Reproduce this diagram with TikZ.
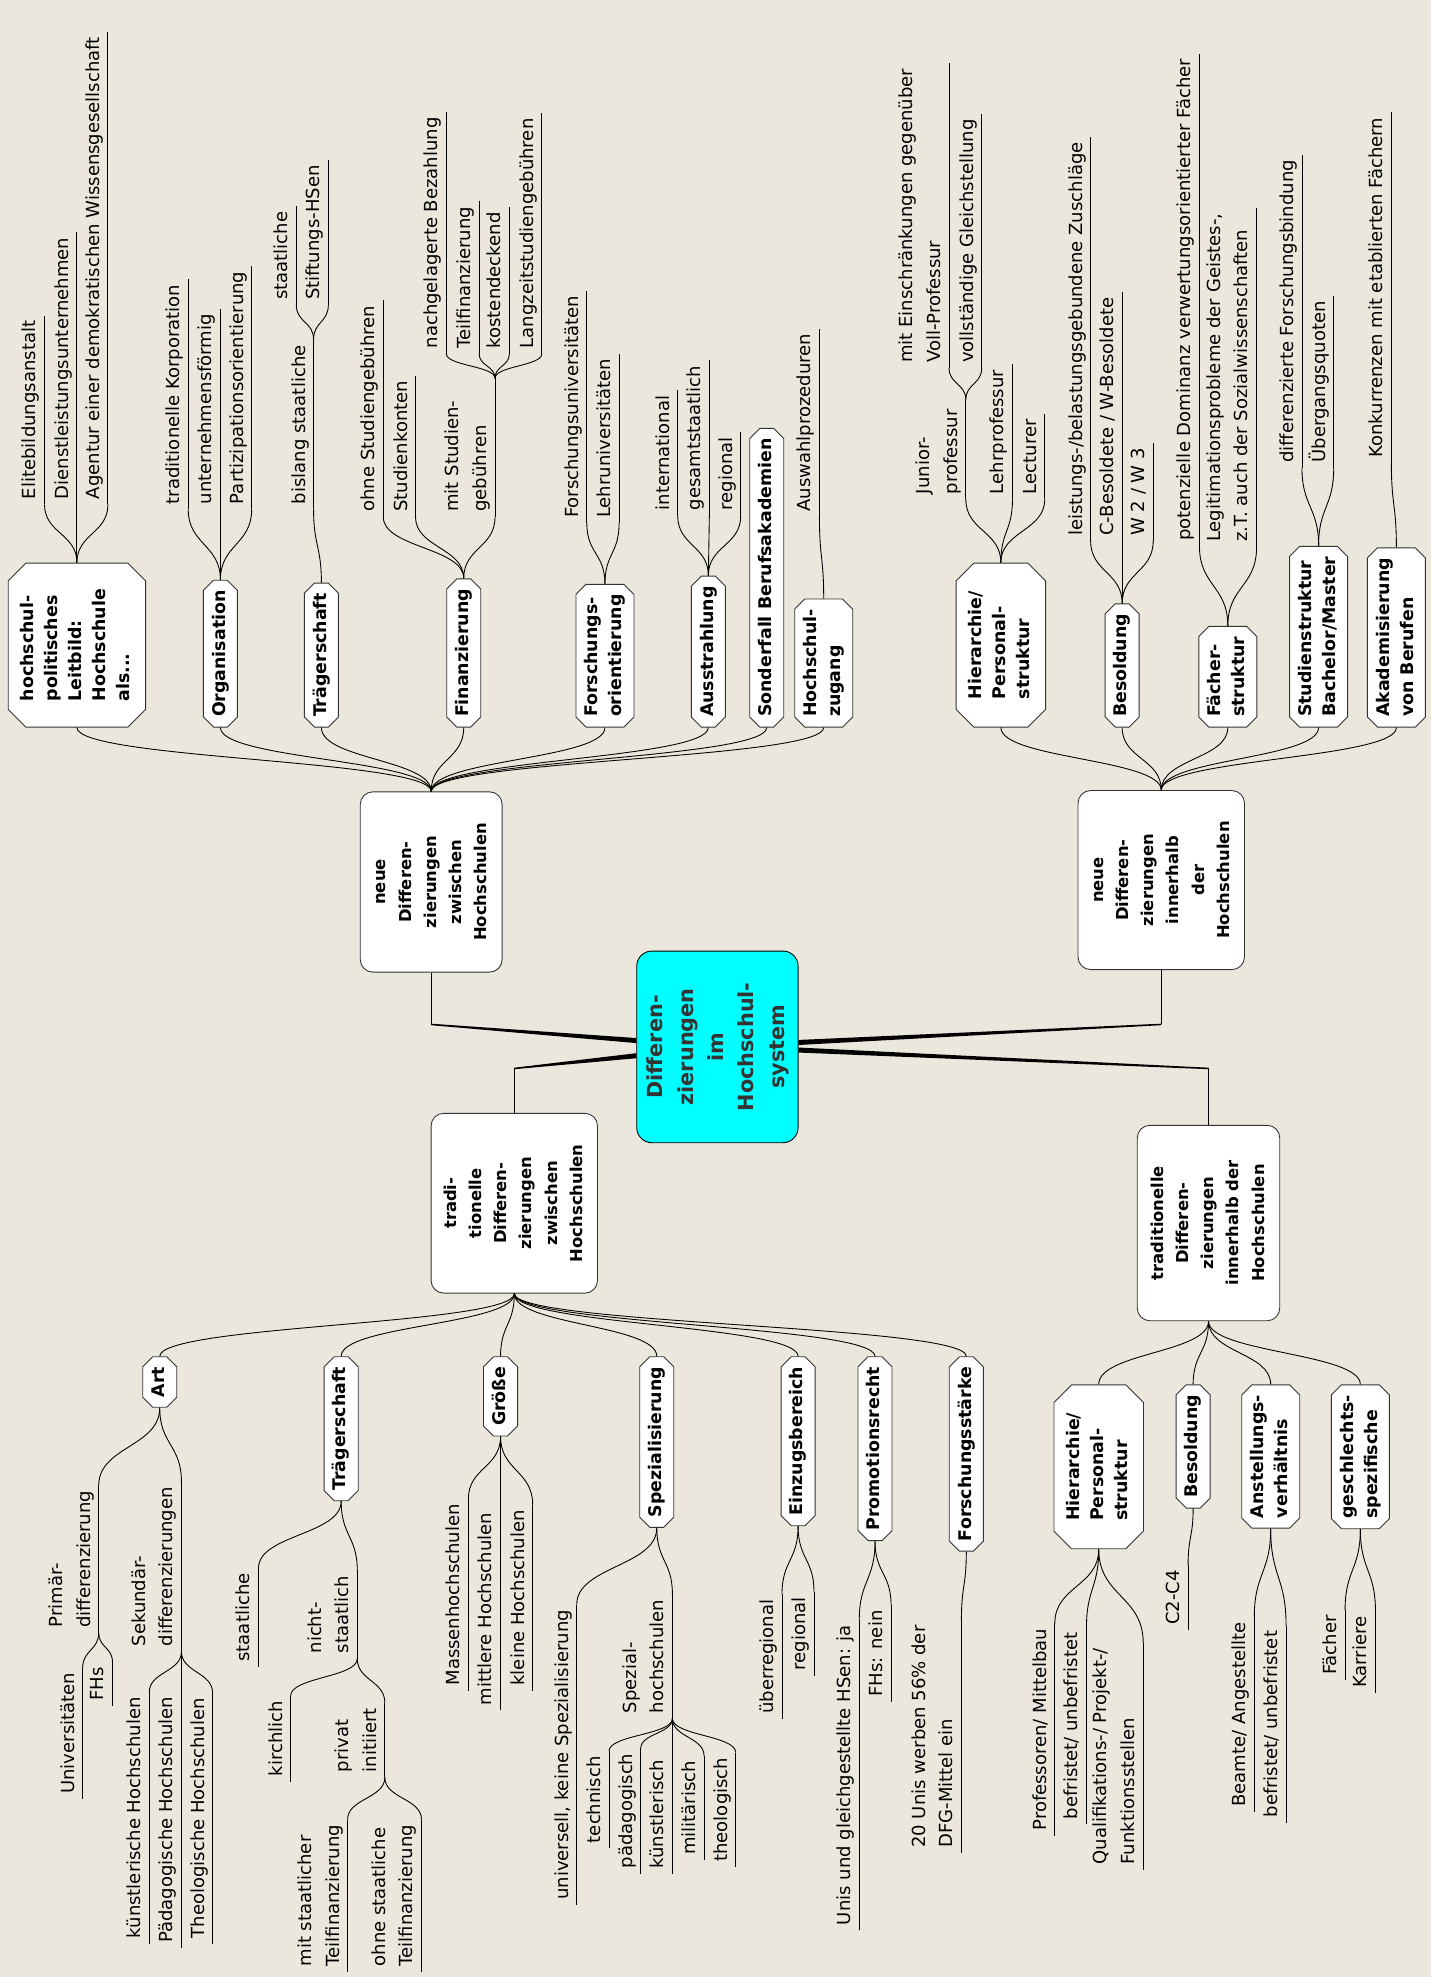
\documentclass[tikz,border=0pt]{standalone}
\usepackage{fontspec}
\setmainfont{DejaVu Sans}
\usetikzlibrary{shapes.misc,calc}
\definecolor{paper}{RGB}{236,231,221}
\definecolor{aqua}{RGB}{0,255,255}
\newcommand{\vlab}[1]{\rotatebox{90}{\begin{tabular}{@{}l@{}}#1\end{tabular}}}
\newcommand{\vclab}[1]{\rotatebox{90}{\begin{tabular}{@{}c@{}}#1\end{tabular}}}
\tikzstyle{twig}=[draw,line width=0.7pt]
\tikzstyle{vbend}=[to path={.. controls ($(\tikztostart)!.5!(\tikztostart|-\tikztotarget)$) and ($(\tikztotarget)!.5!(\tikztotarget|-\tikztostart)$) .. (\tikztotarget)}]
\tikzstyle{leaf}=[anchor=south east, inner xsep=0pt, inner ysep=4pt
,font=\fontsize{14.3}{22}\selectfont
]
\tikzstyle{subtopic}=[chamfered rectangle, chamfered rectangle xsep=4pt, chamfered rectangle ysep=4pt
,draw=black!80, fill=white, line width=0.7pt
,inner xsep=0pt, inner ysep=4pt
,font=\fontsize{13.8}{19}\selectfont\bfseries
]
\tikzstyle{upper}=[subtopic, anchor=south]
\tikzstyle{lower}=[subtopic, anchor=north]
\tikzstyle{bigchamf}=[chamfered rectangle xsep=7pt, chamfered rectangle ysep=7pt, minimum height=130pt]
\tikzstyle{maintopic}=[rounded corners=10pt, draw=black!80, fill=white, line width=0.7pt
,font=\fontsize{13}{20}\selectfont\bfseries
]
\tikzstyle{central}=[rounded corners=12pt, draw=black, fill=aqua, text=black!80, line width=0.7pt
,font=\fontsize{16.5}{24}\selectfont\bfseries
,minimum width=128pt, minimum height=152pt
]

\begin{document}
\begin{tikzpicture}[x=1pt,y=-1pt]
    \useasboundingbox (0,0) rectangle (1135,1568);
    \fill[paper] (0,0) rectangle (1135,1568);

    % central topic and the four main branches
    \node[central] (cen) at (569,830.3) {\vclab{Differen-\\zierungen\\im\\Hochschul-\\system}};
    \node[maintopic, minimum width=112.5pt, minimum height=143pt] (A) at (342,699.5)
        {\vclab{neue\\Differen-\\zierungen\\zwischen\\Hochschulen}};
    \node[maintopic, minimum width=132pt, minimum height=142pt] (B) at (921,698)
        {\vclab{neue\\Differen-\\zierungen\\innerhalb\\der\\Hochschulen}};
    \node[maintopic, minimum width=132pt, minimum height=142.6pt] (C) at (407.9,954.3)
        {\vclab{tradi-\\tionelle\\Differen-\\zierungen\\zwischen\\Hochschulen}};
    \node[maintopic, minimum width=113pt, minimum height=155pt] (D) at (958.5,970)
        {\vclab{traditionelle\\Differen-\\zierungen\\innerhalb der\\Hochschulen}};

    \coordinate (kA) at (342,812.5);
    \coordinate (kB) at (921,812.5);
    \coordinate (kC) at (407.9,847.4);
    \coordinate (kD) at (958.5,847.4);
    \fill ([yshift=7pt]cen.west) -- ([yshift=.6pt]kA) -- ([yshift=-.6pt]kA) -- ([yshift=3pt]cen.west) -- cycle;
    \fill ([yshift=-5pt]cen.west) -- ([yshift=.6pt]kC) -- ([yshift=-.6pt]kC) -- ([yshift=-9pt]cen.west) -- cycle;
    \fill ([yshift=5.5pt]cen.east) -- ([yshift=.6pt]kB) -- ([yshift=-.6pt]kB) -- ([yshift=1.5pt]cen.east) -- cycle;
    \fill ([yshift=-.5pt]cen.east) -- ([yshift=.6pt]kD) -- ([yshift=-.6pt]kD) -- ([yshift=-4.5pt]cen.east) -- cycle;
    \path[twig] (kA) -- (A.south);
    \path[twig] (kB) -- (B.south);
    \path[twig] (kC) -- (C.north);
    \path[twig] (kD) -- (D.north);

    % subtopics above: new differentiations
    \node[upper, bigchamf] (hsl) at (61,577) {\vlab{hochschul-\\politisches\\Leitbild:\\Hochschule\\als...}};
    \node[upper] (org) at (174.8,577) {\vlab{Organisation}};
    \node[upper] (tr1) at (254.9,577) {\vlab{Trägerschaft}};
    \node[upper] (fin) at (367.8,577) {\vlab{Finanzierung}};
    \node[upper] (fo) at (479.8,577) {\vlab{Forschungs-\\orientierung}};
    \node[upper] (aus) at (561.8,577) {\vlab{Ausstrahlung}};
    \node[upper] (sbf) at (608.1,577) {\vlab{Sonderfall Berufsakademien}};
    \node[upper] (hzu) at (653.3,577) {\vlab{Hochschul-\\zugang}};
    \node[upper, bigchamf] (hb) at (793.8,577) {\vlab{Hierarchie/\\Personal-\\struktur}};
    \node[upper] (bb) at (890,577) {\vlab{Besoldung}};
    \node[upper] (bf) at (973.8,577) {\vlab{Fächer-\\struktur}};
    \node[upper] (bs) at (1045.8,577) {\vlab{Studienstruktur\\Bachelor/Master}};
    \node[upper] (ba) at (1107.5,577) {\vlab{Akademisierung\\von Berufen}};

    % subtopics below: traditional differentiations
    \node[lower] (art) at (126.7,1075.7) {\vlab{Art}};
    \node[lower] (tr2) at (270.6,1075.7) {\vlab{Trägerschaft}};
    \node[lower] (gr) at (397,1075.7) {\vlab{Größe}};
    \node[lower] (sp) at (520.9,1075.7) {\vlab{Spezialisierung}};
    \node[lower] (ez) at (633,1075.7) {\vlab{Einzugsbereich}};
    \node[lower] (pr) at (694,1075.7) {\vlab{Promotionsrecht}};
    \node[lower] (fs) at (766.4,1075.7) {\vlab{Forschungsstärke}};
    \node[lower, bigchamf] (dh) at (871.4,1098) {\vlab{Hierarchie/\\Personal-\\struktur}};
    \node[lower] (db) at (946.3,1098) {\vlab{Besoldung}};
    \node[lower] (da) at (1007.8,1098) {\vlab{Anstellungs-\\verhältnis}};
    \node[lower] (dg) at (1078.9,1098) {\vlab{geschlechts-\\spezifische}};

    % leaves, upper half
    \node[leaf] (elite) at (35.3,400) {\vlab{Elitebildungsanstalt}};
    \node[leaf] (dienst) at (61,400) {\vlab{Dienstleistungsunternehmen}};
    \node[leaf] (agentur) at (85.6,400) {\vlab{Agentur einer demokratischen Wissensgesellschaft}};
    \node[leaf] (korp) at (149.3,404) {\vlab{traditionelle Korporation}};
    \node[leaf] (unform) at (174.8,404) {\vlab{unternehmensförmig}};
    \node[leaf] (partiz) at (199.6,404) {\vlab{Partizipationsorientierung}};
    \node[leaf] (bislang) at (248.7,404) {\vlab{bislang staatliche}};
    \coordinate (jbis) at (248.7,269);
    \node[leaf] (staatl) at (235,242) {\vlab{staatliche}};
    \node[leaf] (stift) at (260.4,242) {\vlab{Stiftungs-HSen}};
    \node[leaf] (ohne) at (304,410) {\vlab{ohne Studiengebühren}};
    \node[leaf] (konten) at (329.6,410) {\vlab{Studienkonten}};
    \node[leaf] (mitgeb) at (392.6,410) {\vlab{mit Studien-\\gebühren}};
    \coordinate (jmit) at (392.6,300);
    \node[leaf] (nachg) at (354,280.5) {\vlab{nachgelagerte Bezahlung}};
    \node[leaf] (teilf) at (380,280.5) {\vlab{Teilfinanzierung}};
    \node[leaf] (kostend) at (404,280.5) {\vlab{kostendeckend}};
    \node[leaf] (langz) at (429.8,280.5) {\vlab{Langzeitstudiengebühren}};
    \node[leaf] (funi) at (465.4,415) {\vlab{Forschungsuniversitäten}};
    \node[leaf] (luni) at (491,415) {\vlab{Lehruniversitäten}};
    \node[leaf] (intl) at (537.5,409) {\vlab{international}};
    \node[leaf] (gesamt) at (562.6,409) {\vlab{gesamtstaatlich}};
    \node[leaf] (regio) at (587.5,409) {\vlab{regional}};
    \node[leaf] (auswahl) at (649.9,410) {\vlab{Auswahlprozeduren}};
    \node[leaf] (junior) at (766,396) {\vlab{Junior-\\professur}};
    \coordinate (jjun) at (766,317);
    \node[leaf] (einschr) at (752.7,292) {\vlab{mit Einschränkungen gegenüber\\Voll-Professur}};
    \node[leaf] (gleich) at (778.6,292) {\vlab{vollständige Gleichstellung}};
    \node[leaf] (lehrprof) at (803,396) {\vlab{Lehrprofessur}};
    \node[leaf] (lect) at (828.6,396) {\vlab{Lecturer}};
    \node[leaf] (zuschl) at (865,429) {\vlab{leistungs-/belastungsgebundene Zuschläge}};
    \node[leaf] (cwbes) at (890,429) {\vlab{C-Besoldete / W-Besoldete}};
    \node[leaf] (wzwei) at (914.6,429) {\vlab{W 2 / W 3}};
    \node[leaf] (dominanz) at (951.3,433) {\vlab{potenzielle Dominanz verwertungsorientierter Fächer}};
    \node[leaf] (legit) at (996.6,434) {\vlab{Legitimationsprobleme der Geistes-,\\z.T. auch der Sozialwissenschaften}};
    \node[leaf] (fbind) at (1032.6,371) {\vlab{differenzierte Forschungsbindung}};
    \node[leaf] (uequo) at (1057.8,371) {\vlab{Übergangsquoten}};
    \node[leaf] (konk) at (1103.5,367) {\vlab{Konkurrenzen mit etablierten Fächern}};

    % leaves, lower half
    \node[leaf] (primaer) at (78.3,1295) {\vlab{Primär-\\differenzierung}};
    \node[leaf] (unis) at (65.6,1426.8) {\vlab{Universitäten}};
    \node[leaf] (fhs) at (89.2,1353) {\vlab{FHs}};
    \node[leaf] (sekund) at (143.9,1310) {\vlab{Sekundär-\\differenzierungen}};
    \node[leaf] (kuenstHS) at (118.4,1541.5) {\vlab{künstlerische Hochschulen}};
    \node[leaf] (paedHS) at (143.9,1545) {\vlab{Pädagogische Hochschulen}};
    \node[leaf] (theoHS) at (168.6,1541.5) {\vlab{Theologische Hochschulen}};
    \node[leaf] (staatlC) at (205,1322) {\vlab{staatliche}};
    \node[leaf] (nichtst) at (283.4,1315.5) {\vlab{nicht-\\staatlich}};
    \node[leaf] (kirchl) at (230.5,1413) {\vlab{kirchlich}};
    \node[leaf] (privat) at (305.2,1409.7) {\vlab{privat\\initiiert}};
    \node[leaf] (mitTF) at (275.7,1563.8) {\vlab{mit staatlicher\\Teilfinanzierung}};
    \node[leaf] (ohneTF) at (334.3,1563.8) {\vlab{ohne staatliche\\Teilfinanzierung}};
    \node[leaf] (massen) at (371.5,1341) {\vlab{Massenhochschulen}};
    \node[leaf] (mittl) at (397,1356.6) {\vlab{mittlere Hochschulen}};
    \node[leaf] (klein) at (422.5,1341) {\vlab{kleine Hochschulen}};
    \node[leaf] (univ) at (457.4,1511) {\vlab{universell, keine Spezialisierung}};
    \node[leaf] (spezhs) at (533.3,1363) {\vlab{Spezial-\\hochschulen}};
    \node[leaf] (techn) at (483,1466) {\vlab{technisch}};
    \node[leaf] (paed) at (508.2,1486) {\vlab{pädagogisch}};
    \node[leaf] (kuenst) at (533.3,1486) {\vlab{künstlerisch}};
    \node[leaf] (milit) at (558.4,1475.4) {\vlab{militärisch}};
    \node[leaf] (theol) at (583.5,1480.7) {\vlab{theologisch}};
    \node[leaf] (ueberreg) at (620.2,1363.4) {\vlab{überregional}};
    \node[leaf] (regC) at (645.6,1329) {\vlab{regional}};
    \node[leaf] (unisja) at (681.5,1531) {\vlab{Unis und gleichgestellte HSen: ja}};
    \node[leaf] (fhsnein) at (706.7,1349.7) {\vlab{FHs: nein}};
    \node[leaf] (dfg) at (762.5,1469.6) {\vlab{20 Unis werben 56\% der\\DFG-Mittel ein}};
    \node[leaf] (profmb) at (836.6,1456) {\vlab{Professoren/ Mittelbau}};
    \node[leaf] (befr1) at (861.7,1447) {\vlab{befristet/ unbefristet}};
    \node[leaf] (qualif) at (906.7,1483) {\vlab{Qualifikations-/ Projekt-/\\Funktionsstellen}};
    \node[leaf] (ctwo) at (942.3,1293) {\vlab{C2-C4}};
    \node[leaf] (beamte) at (994.8,1437) {\vlab{Beamte/ Angestellte}};
    \node[leaf] (befr2) at (1020,1445.6) {\vlab{befristet/ unbefristet}};
    \node[leaf] (faecher) at (1066.8,1332.6) {\vlab{Fächer}};
    \node[leaf] (karr) at (1090.9,1342.9) {\vlab{Karriere}};

    % underline every leaf
    \foreach \d in {elite,dienst,agentur,korp,unform,partiz,bislang,staatl,stift,ohne,konten,mitgeb,
        nachg,teilf,kostend,langz,funi,luni,intl,gesamt,regio,auswahl,junior,einschr,gleich,lehrprof,
        lect,zuschl,cwbes,wzwei,dominanz,legit,fbind,uequo,konk,primaer,unis,fhs,sekund,kuenstHS,
        paedHS,theoHS,staatlC,nichtst,kirchl,privat,mitTF,ohneTF,massen,mittl,klein,univ,spezhs,techn,
        paed,kuenst,milit,theol,ueberreg,regC,unisja,fhsnein,dfg,profmb,befr1,qualif,ctwo,beamte,
        befr2,faecher,karr}
        \path[twig] (\d.south east) -- (\d.north east);
    \path[twig] (bislang.north east) -- (jbis);
    \path[twig] (mitgeb.north east) -- (jmit);
    \path[twig] (junior.north east) -- (jjun);

    % main branches to subtopics
    \foreach \d in {hsl,org,tr1,fin,fo,aus,sbf,hzu}
        \path[twig] (A.north) to[vbend] (\d.south);
    \foreach \d in {hb,bb,bf,bs,ba}
        \path[twig] (B.north) to[vbend] (\d.south);
    \foreach \d in {art,tr2,gr,sp,ez,pr,fs}
        \path[twig] (C.south) to[vbend] (\d.north);
    \foreach \d in {dh,db,da,dg}
        \path[twig] (D.south) to[vbend] (\d.north);

    % subtopics to leaves, upper half
    \foreach \s/\d in {hsl/elite, hsl/dienst, hsl/agentur, org/korp, org/unform, org/partiz,
        tr1/bislang, jbis/staatl, jbis/stift, fin/ohne, fin/konten, fin/mitgeb,
        jmit/nachg, jmit/teilf, jmit/kostend, jmit/langz, fo/funi, fo/luni,
        aus/intl, aus/gesamt, aus/regio, hzu/auswahl, hb/junior, jjun/einschr, jjun/gleich,
        hb/lehrprof, hb/lect, bb/zuschl, bb/cwbes, bb/wzwei, bf/dominanz, bf/legit,
        bs/fbind, bs/uequo, ba/konk}
        \path[twig] (\s.north) to[vbend] (\d.south east);

    % subtopics to leaves, lower half
    \foreach \s/\d in {art.south/primaer, art.south/sekund, primaer.south east/unis, primaer.south east/fhs,
        sekund.south east/kuenstHS, sekund.south east/paedHS, sekund.south east/theoHS,
        tr2.south/staatlC, tr2.south/nichtst, nichtst.south east/kirchl, nichtst.south east/privat,
        privat.south east/mitTF, privat.south east/ohneTF, gr.south/massen, gr.south/mittl, gr.south/klein,
        sp.south/univ, sp.south/spezhs, spezhs.south east/techn, spezhs.south east/paed,
        spezhs.south east/kuenst, spezhs.south east/milit, spezhs.south east/theol,
        ez.south/ueberreg, ez.south/regC, pr.south/unisja, pr.south/fhsnein, fs.south/dfg,
        dh.south/profmb, dh.south/befr1, dh.south/qualif, db.south/ctwo, da.south/beamte,
        da.south/befr2, dg.south/faecher, dg.south/karr}
        \path[twig] (\s) to[vbend] (\d.north east);
\end{tikzpicture}
\end{document}
